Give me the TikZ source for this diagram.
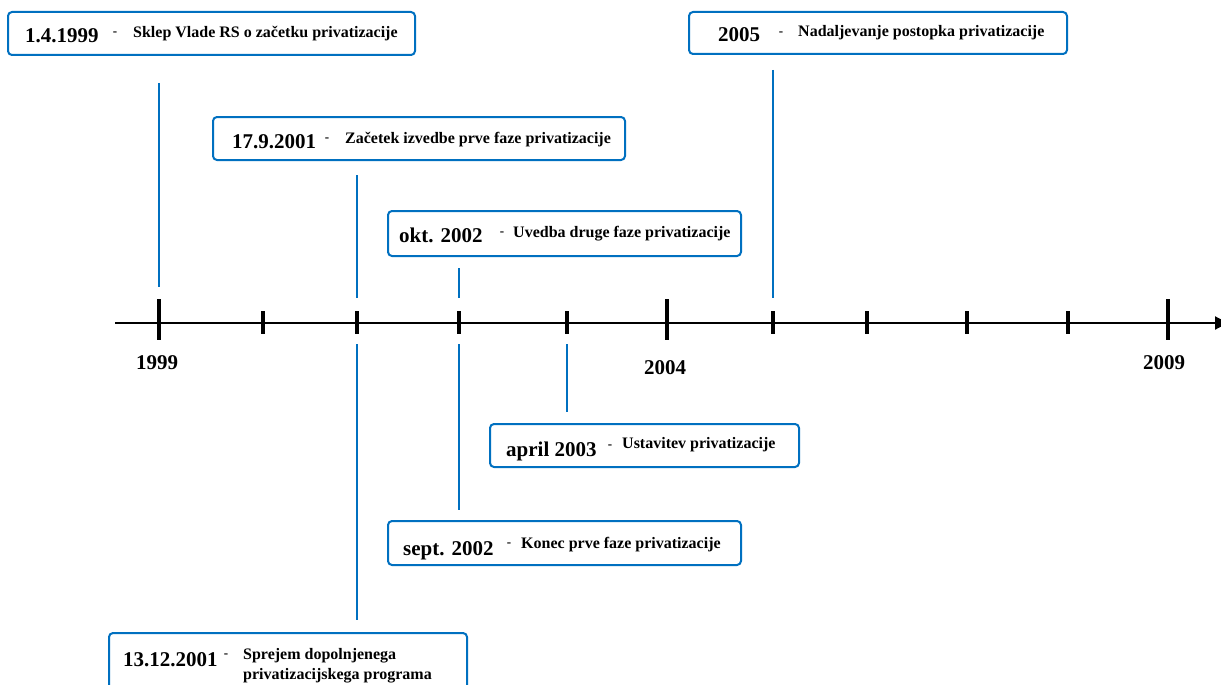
\documentclass[tikz,border=0pt]{standalone}
\usepackage{fontspec}
\setmainfont{Liberation Serif}
\usetikzlibrary{arrows.meta}
\definecolor{evblue}{RGB}{0,112,192}
\tikzset{
  evbox/.style={draw=evblue, line width=2pt, rounded corners=4pt, fill=white, inner sep=0pt},
  datetxt/.style={font=\bfseries\fontsize{21}{24}\selectfont, anchor=base west, inner sep=0pt},
  desctxt/.style={font=\bfseries\fontsize{16}{19}\selectfont, anchor=base west, inner sep=0pt},
  dashtxt/.style={font=\bfseries\fontsize{13}{15}\selectfont, anchor=base, inner sep=0pt},
  yeartxt/.style={font=\bfseries\fontsize{21}{24}\selectfont, anchor=base, inner sep=0pt},
  link/.style={draw=evblue, line width=2pt},
  majortick/.style={line width=4.5pt},
  minortick/.style={line width=4pt},
}
\begin{document}
\begin{tikzpicture}[x=1pt,y=-1pt]
\useasboundingbox (0,0) rectangle (1221,685);

% time axis
\coordinate (axL) at (115,323);
\coordinate (axR) at (1228,323);
\draw[line width=2pt, -{Triangle[length=13pt,width=13pt]}] (axL) -- (axR);

% ticks (major at 1999, 2004, 2009)
\foreach \x in {159,667,1168} \draw[majortick] (\x,299) -- (\x,340);
\foreach \x in {263,357,459,567,773,867,967,1068} \draw[minortick] (\x,311) -- (\x,334);

\node[yeartxt] (y1999) at (157,369) {1999};
\node[yeartxt] (y2004) at (665,374) {2004};
\node[yeartxt] (y2009) at (1164,369) {2009};

% event boxes
\node[evbox, minimum width=407pt, minimum height=43pt] (b1) at (211.5,33.5) {};
\node[evbox, minimum width=378pt, minimum height=42pt] (b2) at (878,33) {};
\node[evbox, minimum width=412pt, minimum height=43pt] (b3) at (419,138.5) {};
\node[evbox, minimum width=353pt, minimum height=45pt] (b4) at (564.5,233.5) {};
\node[evbox, minimum width=309pt, minimum height=43pt] (b5) at (644.5,445.5) {};
\node[evbox, minimum width=353pt, minimum height=44pt] (b6) at (564.5,543) {};
\node[evbox, minimum width=358pt, minimum height=60pt] (b7) at (288,663) {};

% texts
\node[datetxt] (d1) at (25,43) {1.4.1999};
\node[dashtxt] at (115,36) {-};
\node[desctxt] (t1) at (133,38) {Sklep Vlade RS o začetku privatizacije};

\node[datetxt] (d2) at (718,42) {2005};
\node[dashtxt] at (781,36) {-};
\node[desctxt] (t2) at (798,37) {Nadaljevanje postopka privatizacije};

\node[datetxt] (d3) at (232,148) {17.9.2001};
\node[dashtxt] at (327,141) {-};
\node[desctxt] (t3) at (345,143) {Začetek izvedbe prve faze privatizacije};

\node[datetxt] (d4) at (399,242) {okt. 2002};
\node[dashtxt] at (502,235) {-};
\node[desctxt] (t4) at (513,237) {Uvedba druge faze privatizacije};

\node[datetxt] (d5) at (506,456) {april 2003};
\node[dashtxt] at (610,448) {-};
\node[desctxt] (t5) at (622,448) {Ustavitev privatizacije};

\node[datetxt] (d6) at (403,555) {sept. 2002};
\node[dashtxt] at (509,546) {-};
\node[desctxt] (t6) at (521,548) {Konec prve faze privatizacije};

\node[datetxt] (d7) at (123,666) {13.12.2001};
\node[dashtxt] at (226,657) {-};
\node[desctxt] (t7a) at (243,659) {Sprejem dopolnjenega};
\node[desctxt] (t7b) at (243,679) {privatizacijskega programa};

% connectors from boxes to the axis
\coordinate (c1a) at (159,83);  \coordinate (c1b) at (159,287);
\coordinate (c2a) at (773,70);  \coordinate (c2b) at (773,298);
\coordinate (c3a) at (357,175); \coordinate (c3b) at (357,298);
\coordinate (c4a) at (459,268); \coordinate (c4b) at (459,298);
\coordinate (c5a) at (567,344); \coordinate (c5b) at (567,412);
\coordinate (c6a) at (459,344); \coordinate (c6b) at (459,510);
\coordinate (c7a) at (357,344); \coordinate (c7b) at (357,620);
\foreach \i in {1,...,7} \draw[link] (c\i a) -- (c\i b);
\end{tikzpicture}
\end{document}
